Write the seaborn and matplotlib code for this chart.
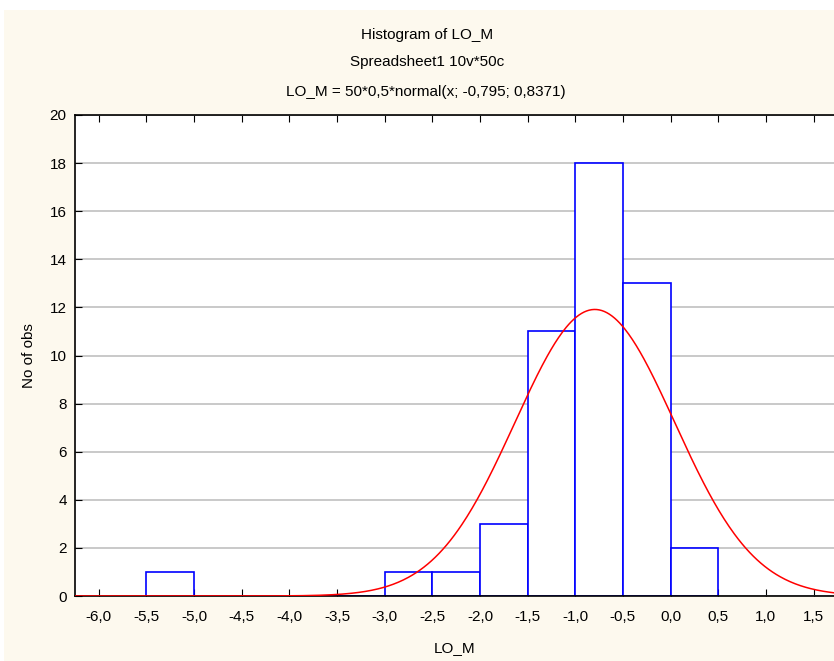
import numpy as np
import pandas as pd
import matplotlib
matplotlib.use("Agg")
import matplotlib.pyplot as plt
from matplotlib.patches import Rectangle
import seaborn as sns


# 1. Data
bin_edges = [-5.5, -5.0, -4.5, -4.0, -3.5, -3.0, -2.5, -2.0, -1.5, -1.0, -0.5, 0.0, 0.5]
bin_counts = [1, 0, 0, 0, 0, 1, 1, 3, 11, 18, 13, 2]

n_obs = 50
bin_width = 0.5
fit_mean = -0.795
fit_sd = 0.8371

x_ticks = [-6.0, -5.5, -5.0, -4.5, -4.0, -3.5, -3.0, -2.5, -2.0, -1.5, -1.0, -0.5, 0.0, 0.5, 1.0, 1.5]
x_tick_labels = ["-6,0", "-5,5", "-5,0", "-4,5", "-4,0", "-3,5", "-3,0", "-2,5", "-2,0",
                 "-1,5", "-1,0", "-0,5", "0,0", "0,5", "1,0", "1,5"]
y_ticks = [0, 2, 4, 6, 8, 10, 12, 14, 16, 18, 20]

df = pd.DataFrame({
    "LO_M": [(a + b) / 2 for a, b in zip(bin_edges[:-1], bin_edges[1:])],
    "count": bin_counts,
})

# fitted curve given in the chart subtitle
curve_x = np.linspace(-6.25, 1.75, 600)
curve_y = n_obs * bin_width * np.exp(-0.5 * ((curve_x - fit_mean) / fit_sd) ** 2) / (fit_sd * np.sqrt(2 * np.pi))
curve_df = pd.DataFrame({"x": curve_x, "y": curve_y})


# 2. Plot
sns.set_style("white")
plt.rcParams["font.family"] = ["Liberation Sans", "DejaVu Sans"]
plt.rcParams["text.color"] = "black"
plt.rcParams["axes.labelcolor"] = "black"
plt.rcParams["xtick.color"] = "black"
plt.rcParams["ytick.color"] = "black"

fig = plt.figure(figsize=(8.34, 6.61), dpi=100)
fig.patch.set_facecolor("white")
fig.patches.append(Rectangle((4 / 834, 0), 1, 651 / 661, transform=fig.transFigure,
                             facecolor="#FDF9EE", edgecolor="none", zorder=-10))

ax = fig.add_axes([75 / 834, 65 / 661, 1 - 75 / 834, 481 / 661])
ax.set_facecolor("white")

sns.histplot(data=df, x="LO_M", weights="count", bins=bin_edges, ax=ax,
             color="white", edgecolor="#0000FF", linewidth=1.2, alpha=1, zorder=2)
sns.lineplot(data=curve_df, x="x", y="y", ax=ax, color="#FF0000", linewidth=1.1, zorder=3)

ax.set_xlim(-6.25, 1.715)
ax.set_ylim(0, 20)
ax.set_xticks(x_ticks)
ax.set_xticklabels(x_tick_labels)
ax.set_yticks(y_ticks)
ax.yaxis.grid(True, color="#C0C0C0", linewidth=1.2, zorder=0)
ax.set_axisbelow(True)

ax.tick_params(axis="x", direction="in", length=5, top=True, bottom=True, labelsize=11,
               pad=10, color="black")
ax.tick_params(axis="y", direction="in", length=5, left=True, labelsize=11, pad=6, color="black")

for side in ["left", "top", "bottom"]:
    ax.spines[side].set_color("black")
    ax.spines[side].set_linewidth(1.2)
ax.spines["right"].set_visible(False)

ax.set_xlabel("LO_M", fontsize=11, labelpad=12)
ax.set_ylabel("No of obs", fontsize=11, labelpad=10)

fig.text(0.512, 1 - 35 / 661, "Histogram of LO_M", ha="center", va="center", fontsize=11)
fig.text(0.512, 1 - 62 / 661, "Spreadsheet1 10v*50c", ha="center", va="center", fontsize=11)
fig.text(0.51, 1 - 92 / 661, "LO_M = 50*0,5*normal(x; -0,795; 0,8371)", ha="center", va="center", fontsize=11)

fig.savefig("out.png", dpi=100)
